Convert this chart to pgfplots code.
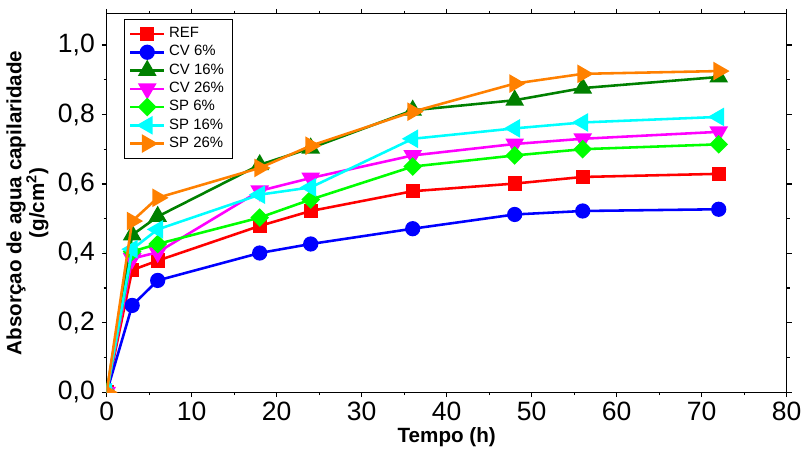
\documentclass[border=0pt]{standalone}
\usepackage{fontspec}
\setmainfont{Liberation Sans}
\usepackage{pgfplots}
\pgfplotsset{compat=1.18}
\definecolor{cref}{RGB}{255,0,0}
\definecolor{ccv6}{RGB}{0,0,255}
\definecolor{ccv16}{RGB}{0,128,0}
\definecolor{ccv26}{RGB}{255,0,255}
\definecolor{csp6}{RGB}{0,255,0}
\definecolor{csp16}{RGB}{0,255,255}
\definecolor{csp26}{RGB}{255,128,0}
\pgfplotsset{
  serie/.style={line width=1.3bp, mark size=3bp, mark options={solid}},
}
\begin{document}
\begin{tikzpicture}
\begin{axis}[
  width=345bp, height=192bp, scale only axis,
  xmin=0, xmax=80, ymin=0, ymax=1.09,
  xtick={0,10,...,80}, minor x tick num=1,
  ytick={0,0.2,0.4,0.6,0.8,1.0}, minor y tick num=1,
  tick align=outside,
  major tick length=2.5bp, minor tick length=1.5bp,
  axis line style={line width=0.7bp},
  every tick/.style={black, line width=0.6bp},
  clip marker paths=true,
  /pgf/number format/assume math mode=true,
  yticklabel style={/pgf/number format/.cd, fixed, fixed zerofill, precision=1, use comma},
  tick label style={font=\fontsize{13.5}{15}\selectfont},
  xticklabel style={yshift=1bp},
  xlabel={\textbf{Tempo (h)}},
  ylabel={\textbf{Absorçao de agua capilaridade}\\\textbf{(g/cm\textsuperscript{2})}},
  label style={font=\fontsize{10.5}{11.5}\selectfont},
  ylabel style={align=center, yshift=-2bp},
  xlabel style={yshift=3.5bp},
  legend style={at={(0.026,0.987)}, anchor=north west, draw=black, line width=0.5bp,
    font=\fontsize{7.6}{8}\selectfont, row sep=-1.5bp, inner sep=2.2bp},
  legend cell align=left,
  legend image code/.code={\draw[mark repeat=2, mark phase=2] plot coordinates {(0cm,0cm) (0.3cm,0cm) (0.6cm,0cm)};},
]
\addplot[serie, color=cref, mark=square*] coordinates {
  (0,0) (3,0.352) (6,0.379) (18,0.479) (24,0.522) (36,0.579) (48,0.601) (56,0.620) (72,0.629)};
\addplot[serie, color=ccv6, mark=*, mark size=3.2bp] coordinates {
  (0,0) (3,0.250) (6,0.322) (18,0.401) (24,0.427) (36,0.471) (48,0.512) (56,0.522) (72,0.527)};
\addplot[serie, color=ccv16, mark=triangle*, mark size=4.2bp] coordinates {
  (0,0) (3,0.453) (6,0.506) (18,0.655) (24,0.703) (36,0.812) (48,0.841) (56,0.876) (72,0.908)};
\addplot[serie, color=ccv26, mark=triangle*, mark size=4.2bp, mark options={rotate=180}] coordinates {
  (0,0) (3,0.385) (6,0.403) (18,0.580) (24,0.617) (36,0.682) (48,0.715) (56,0.730) (72,0.750)};
\addplot[serie, color=csp6, mark=square*, mark size=2.7bp, mark options={rotate=45}] coordinates {
  (0,0) (3,0.405) (6,0.427) (18,0.503) (24,0.555) (36,0.650) (48,0.682) (56,0.700) (72,0.714)};
\addplot[serie, color=csp16, mark=triangle*, mark size=4.2bp, mark options={rotate=90}] coordinates {
  (0,0) (3,0.412) (6,0.469) (18,0.569) (24,0.590) (36,0.730) (48,0.760) (56,0.777) (72,0.793)};
\addplot[serie, color=csp26, mark=triangle*, mark size=4.2bp, mark options={rotate=-90}] coordinates {
  (0,0) (3,0.493) (6,0.560) (18,0.646) (24,0.710) (36,0.808) (48,0.889) (56,0.917) (72,0.925)};
\legend{REF, CV 6\%, CV 16\%, CV 26\%, SP 6\%, SP 16\%, SP 26\%}
\end{axis}
\path (current axis.north) ++(0,7bp);
\end{tikzpicture}
\end{document}
